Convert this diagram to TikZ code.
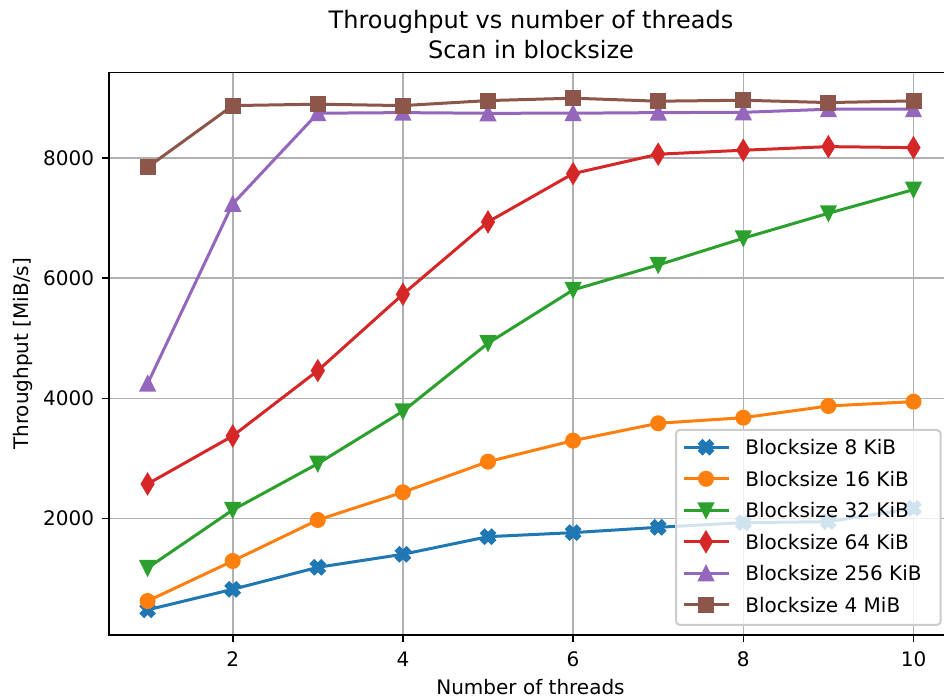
\documentclass[tikz,border=0pt]{standalone}
\usepackage{fontspec}
\setmainfont{DejaVu Sans}
\definecolor{cA}{HTML}{1F77B4}
\definecolor{cB}{HTML}{FF7F0E}
\definecolor{cC}{HTML}{2CA02C}
\definecolor{cD}{HTML}{D62728}
\definecolor{cE}{HTML}{9467BD}
\definecolor{cF}{HTML}{8C564B}
\definecolor{gridc}{HTML}{B0B0B0}
\definecolor{legc}{HTML}{CCCCCC}

\pgfdeclareplotmark{mkX}{%
  \pgfpathmoveto{\pgfqpoint{-1.75pt}{-3.5pt}}%
  \pgfpathlineto{\pgfqpoint{0pt}{-1.75pt}}%
  \pgfpathlineto{\pgfqpoint{1.75pt}{-3.5pt}}%
  \pgfpathlineto{\pgfqpoint{3.5pt}{-1.75pt}}%
  \pgfpathlineto{\pgfqpoint{1.75pt}{0pt}}%
  \pgfpathlineto{\pgfqpoint{3.5pt}{1.75pt}}%
  \pgfpathlineto{\pgfqpoint{1.75pt}{3.5pt}}%
  \pgfpathlineto{\pgfqpoint{0pt}{1.75pt}}%
  \pgfpathlineto{\pgfqpoint{-1.75pt}{3.5pt}}%
  \pgfpathlineto{\pgfqpoint{-3.5pt}{1.75pt}}%
  \pgfpathlineto{\pgfqpoint{-1.75pt}{0pt}}%
  \pgfpathlineto{\pgfqpoint{-3.5pt}{-1.75pt}}%
  \pgfpathclose
  \pgfusepathqfillstroke}
\pgfdeclareplotmark{mkO}{%
  \pgfpathcircle{\pgfpointorigin}{3.5pt}%
  \pgfusepathqfillstroke}
\pgfdeclareplotmark{mkV}{%
  \pgfpathmoveto{\pgfqpoint{0pt}{-3.5pt}}%
  \pgfpathlineto{\pgfqpoint{3.5pt}{3.5pt}}%
  \pgfpathlineto{\pgfqpoint{-3.5pt}{3.5pt}}%
  \pgfpathclose
  \pgfusepathqfillstroke}
\pgfdeclareplotmark{mkU}{%
  \pgfpathmoveto{\pgfqpoint{0pt}{3.5pt}}%
  \pgfpathlineto{\pgfqpoint{-3.5pt}{-3.5pt}}%
  \pgfpathlineto{\pgfqpoint{3.5pt}{-3.5pt}}%
  \pgfpathclose
  \pgfusepathqfillstroke}
\pgfdeclareplotmark{mkD}{%
  \pgfpathmoveto{\pgfqpoint{0pt}{4.95pt}}%
  \pgfpathlineto{\pgfqpoint{2.97pt}{0pt}}%
  \pgfpathlineto{\pgfqpoint{0pt}{-4.95pt}}%
  \pgfpathlineto{\pgfqpoint{-2.97pt}{0pt}}%
  \pgfpathclose
  \pgfusepathqfillstroke}
\pgfdeclareplotmark{mkS}{%
  \pgfpathrectangle{\pgfqpoint{-3.5pt}{-3.5pt}}{\pgfqpoint{7pt}{7pt}}%
  \pgfusepathqfillstroke}

\tikzset{
  gridline/.style={gridc, line width=0.8pt},
  spine/.style={black, line width=0.8pt, line cap=butt},
  tickmark/.style={black, line width=0.8pt},
  ticklbl/.style={inner sep=0pt, font=\fontsize{10}{12}\selectfont},
  serie/.style={#1, line width=1.5pt, line join=round,
    mark options={solid, fill=#1, draw=#1, line width=1pt, line join=miter}},
  leghandle/.style={#1, line width=1.5pt},
}

\begin{document}
\begin{tikzpicture}[x=0.5pt, y=-0.5pt]
\useasboundingbox (0,0) rectangle (944,699);
\clip (0,0) rectangle (944,699);
\fill[white] (0,0) rectangle (944,699);

% grid
\foreach \k in {2,4,6,8,10}
  \draw[gridline] ({62.5+85.1*\k},72.7) -- ({62.5+85.1*\k},635);
\foreach \v in {2000,4000,6000,8000}
  \draw[gridline] (109,{638.7-0.06008*\v}) -- (951.6,{638.7-0.06008*\v});

% data
\begin{scope}[shift={(62.5,638.7)}, x=42.55pt, y=0.03004pt]
\draw[serie=cA, mark=mkX] plot coordinates {(1,480) (2,822) (3,1188) (4,1405) (5,1698) (6,1765) (7,1854) (8,1931) (9,1948) (10,2170)};
\draw[serie=cB, mark=mkO] plot coordinates {(1,627) (2,1293) (3,1976) (4,2437) (5,2946) (6,3296) (7,3585) (8,3678) (9,3873) (10,3945)};
\draw[serie=cC, mark=mkV] plot coordinates {(1,1177) (2,2142) (3,2913) (4,3785) (5,4917) (6,5804) (7,6220) (8,6664) (9,7080) (10,7473)};
\draw[serie=cD, mark=mkD] plot coordinates {(1,2575) (2,3374) (3,4461) (4,5732) (5,6936) (6,7740) (7,8063) (8,8129) (9,8189) (10,8172)};
\draw[serie=cE, mark=mkU] plot coordinates {(1,4244) (2,7236) (3,8745) (4,8755) (5,8744) (6,8745) (7,8755) (8,8760) (9,8811) (10,8811)};
\draw[serie=cF, mark=mkS] plot coordinates {(1,7846) (2,8872) (3,8895) (4,8872) (5,8955) (6,8995) (7,8945) (8,8961) (9,8922) (10,8950)};
\end{scope}

% spines
\draw[spine] (951.6,72.7) -- (109,72.7) -- (109,635) -- (951.6,635);

% x ticks
\foreach \k in {2,4,6,8,10} {
  \draw[tickmark] ({62.5+85.1*\k},635) -- ({62.5+85.1*\k},642);
  \node[ticklbl, anchor=base] (xt\k) at ({62.5+85.1*\k},666.7) {\k};
}
% y ticks
\foreach \v in {2000,4000,6000,8000} {
  \draw[tickmark] (109,{638.7-0.06008*\v}) -- (102,{638.7-0.06008*\v});
  \node[ticklbl, anchor=east] (yt\v) at (94.5,{638.7-0.06008*\v}) {\v};
}

% labels
\node[ticklbl, anchor=base] (xlabel) at (530.5,695) {Number of threads};
\node[ticklbl, anchor=base, rotate=90] (ylabel) at (28.3,353.9) {Throughput [MiB/s]};
\node[inner sep=0pt, anchor=base, font=\fontsize{12}{14.4}\selectfont] (title1) at (531,29) {Throughput vs number of threads};
\node[inner sep=0pt, anchor=base, font=\fontsize{12}{14.4}\selectfont] (title2) at (531,58.3) {Scan in blocksize};

% legend
\draw[legc, fill=white, fill opacity=0.8, line width=1pt, rounded corners=2pt] (676,430) rectangle (940.7,625);
\foreach \c/\m/\t [count=\i from 0] in {cA/mkX/{Blocksize 8 KiB}, cB/mkO/{Blocksize 16 KiB}, cC/mkV/{Blocksize 32 KiB}, cD/mkD/{Blocksize 64 KiB}, cE/mkU/{Blocksize 256 KiB}, cF/mkS/{Blocksize 4 MiB}} {
  \pgfmathsetmacro{\ry}{447.3+31.5*\i}
  \draw[leghandle=\c] (683.5,\ry) -- (728.5,\ry);
  \path[serie=\c, mark=\m] plot coordinates {(706,\ry)};
  \node[ticklbl, anchor=west] (leg\i) at (745,\ry) {\t};
}
\end{tikzpicture}
\end{document}
